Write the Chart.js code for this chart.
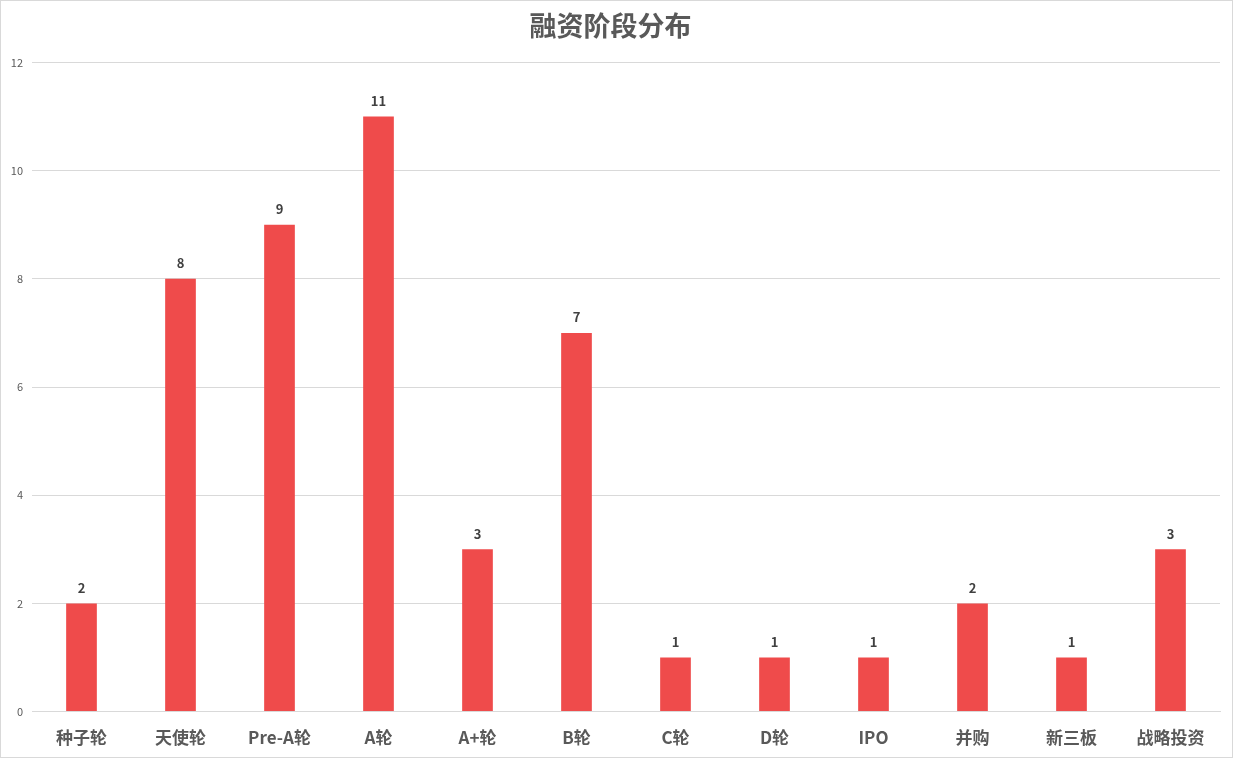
<!DOCTYPE html>
<html>
<head>
<meta charset="utf-8">
<script src="https://cdn.jsdelivr.net/npm/chart.js@4.4.1/dist/chart.umd.min.js"></script>
<style>
  html, body { margin: 0; padding: 0; background: #fff; }
  #wrap { width: 1231px; height: 756px; border: 1px solid #d9d9d9; position: relative; }
</style>
</head>
<body>
<div id="wrap"><canvas id="stageChart"></canvas></div>
<script>
const stages = ["种子轮", "天使轮", "Pre-A轮", "A轮", "A+轮", "B轮", "C轮", "D轮", "IPO", "并购", "新三板", "战略投资"];
const counts = [2, 8, 9, 11, 3, 7, 1, 1, 1, 2, 1, 3];
const yTicks = [0, 2, 4, 6, 8, 10, 12];

const fontFamily = "'Noto Sans CJK SC', 'Noto Sans', sans-serif";

// draws the number above each bar
const barLabels = {
    id: "barLabels",
    afterDatasetsDraw(chart) {
        const ctx = chart.ctx;
        const meta = chart.getDatasetMeta(0);
        ctx.save();
        ctx.font = "bold 13px " + fontFamily;
        ctx.fillStyle = "#404040";
        ctx.textAlign = "center";
        ctx.textBaseline = "bottom";
        meta.data.forEach((bar, i) => {
            ctx.fillText(counts[i], bar.x, bar.y - 9);
        });
        ctx.restore();
    }
};

const ctx = document.getElementById("stageChart").getContext("2d");

new Chart(ctx, {
    type: "bar",
    data: {
        labels: stages,
        datasets: [{
            label: "数量",
            data: counts,
            backgroundColor: "#EF4B4B",
            barPercentage: 0.31,
            categoryPercentage: 1
        }]
    },
    options: {
        responsive: true,
        maintainAspectRatio: false,
        animation: false,
        layout: { padding: { left: 0, right: 12, top: 0, bottom: 1 } },
        plugins: {
            legend: { display: false },
            tooltip: { enabled: false },
            title: {
                display: true,
                text: "融资阶段分布",
                color: "#595959",
                font: { size: 27, weight: "bold", family: fontFamily },
                padding: { top: 9, bottom: 20 }
            }
        },
        scales: {
            y: {
                min: 0,
                max: 12,
                afterFit(scale) { scale.width = 31; },
                afterBuildTicks(scale) { scale.ticks = yTicks.map(v => ({ value: v })); },
                border: { display: false },
                grid: { color: "#d9d9d9", drawTicks: false },
                ticks: {
                    color: "#595959",
                    padding: 9,
                    font: { size: 11, family: fontFamily }
                }
            },
            x: {
                border: { display: true, color: "#d9d9d9" },
                grid: { display: false },
                ticks: {
                    color: "#595959",
                    padding: 8,
                    maxRotation: 0,
                    font: { size: 17, weight: "bold", family: fontFamily }
                }
            }
        }
    },
    plugins: [barLabels]
});
</script>
</body>
</html>
